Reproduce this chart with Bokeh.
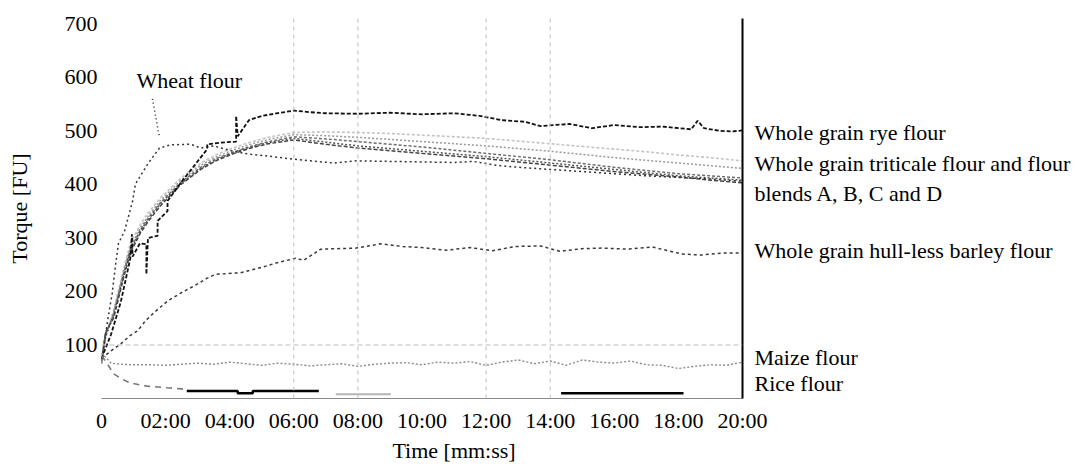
from bokeh.plotting import figure
from bokeh.models import Label, Span, LinearAxis, FixedTicker, Range1d
from bokeh.embed import file_html
from bokeh.resources import INLINE

# ---------------- data ----------------
tick_minutes = [0, 2, 4, 6, 8, 10, 12, 14, 16, 18, 20]
tick_labels = ["0", "02:00", "04:00", "06:00", "08:00", "10:00",
               "12:00", "14:00", "16:00", "18:00", "20:00"]
grid_minutes = [6, 8, 12, 14]
grid_torque = [100]
x_title = "Time [mm:ss]"
x_title_at = 11
y_title = "Torque [FU]"

# end-of-curve labels (torque level where each label sits on the right)
series_names = ["Whole grain rye flour", "Whole grain triticale flour and flour",
                "blends A, B, C and D", "Whole grain hull-less barley flour",
                "Maize flour", "Rice flour"]
series_label_torque = [497, 439, 383, 276, 77, 28]

blend_t = [0, 0.13, 0.38, 0.7, 0.9, 1.22, 1.47, 1.84, 2.48, 3.1, 3.6, 4.1, 4.6, 5.2,
           6, 7, 8, 9, 10, 11, 12, 13, 14, 15, 16, 17, 18, 19, 20]
triticale = [72, 120, 165, 245, 290, 326, 348, 375, 412, 440, 456, 468, 478, 488,
             497, 498, 497, 495, 492, 489, 486, 481, 476, 471, 466, 461, 455, 450, 444]
blend_a = [70, 118, 160, 240, 283, 320, 342, 370, 408, 436, 452, 464, 474, 484,
           493, 491, 488, 484, 480, 476, 472, 467, 462, 456, 450, 445, 440, 435, 430]
blend_b = [68, 122, 155, 236, 278, 316, 338, 366, 404, 432, 449, 460, 470, 480,
           489, 485, 480, 475, 470, 464, 458, 452, 446, 439, 432, 426, 420, 416, 412]
blend_c = [74, 115, 158, 232, 276, 314, 335, 364, 402, 430, 447, 459, 469, 478,
           486, 479, 472, 467, 462, 457, 452, 446, 440, 434, 428, 422, 416, 412, 408]
blend_d = [70, 125, 150, 228, 272, 310, 332, 360, 400, 428, 445, 457, 467, 476,
           483, 475, 468, 463, 458, 453, 448, 442, 436, 430, 424, 419, 414, 408, 403]

wheat_t = [0, 0.19, 0.33, 0.44, 0.53, 0.72, 0.97, 1.06, 1.44, 1.81, 2.16, 2.78, 3.1,
           3.5, 4.1, 4.56, 5.2, 6, 7.25, 7.9, 9, 10, 11, 11.6, 12.3, 13, 14, 15, 16,
           17, 18, 19, 20]
wheat = [65, 145, 195, 250, 290, 313, 369, 401, 438, 468, 474, 475, 468,
         472, 462, 457, 453, 447, 440, 444, 443, 442, 441, 443, 436, 432, 428, 424, 420,
         416, 413, 410, 406]

rye_t = [0, 0.3, 0.6, 0.9, 0.95, 0.97, 1.2, 1.4, 1.4, 1.45, 1.75, 1.75, 2.06, 2.06,
         2.5, 2.88, 3.3, 3.3, 3.7, 4.2, 4.2, 4.25, 4.6, 5, 5.5, 6, 6.5, 7, 8, 9, 10,
         11, 11.8, 12.5, 13.2, 13.7, 14.6, 15.3, 16, 16.8, 17.5, 18.4, 18.6, 18.8,
         19.3, 19.7, 20]
rye = [75, 120, 180, 262, 307, 265, 290, 288, 232, 300, 304, 332, 350, 369,
       405, 434, 466, 475, 478, 480, 528, 490, 520, 528, 533, 538, 535, 533, 532, 534, 531,
       533, 528, 520, 517, 509, 513, 505, 511, 507, 508, 503, 519, 505,
       500, 499, 501]

barley_t = [0, 0.3, 0.6, 0.9, 1.12, 1.37, 1.63, 2.06, 2.47, 2.88, 3.3, 3.56, 4.34, 5,
            5.44, 6.06, 6.3, 6.84, 7.94, 8.7, 9.4, 10, 10.75, 11.5, 12.2, 12.9, 13.7,
            14.3, 15, 15.6, 16.4, 17.2, 18.1, 18.7, 19.4, 20]
barley = [75, 89, 102, 118, 126, 145, 160, 182, 197, 210, 225, 232, 235, 245,
          253, 262, 258, 279, 281, 289, 284, 282, 277, 282, 276, 284, 285,
          275, 280, 281, 279, 283, 270, 268, 272, 272]

maize_t = [0, 0.3, 0.6, 1, 1.5, 2, 2.5, 3, 3.5, 4, 4.5, 5, 5.5, 6, 6.5, 7, 7.5, 8,
           8.5, 9, 9.5, 10, 10.5, 11, 11.5, 12, 12.5, 13, 13.5, 14, 14.5, 15, 15.5,
           16, 16.5, 17, 17.5, 18, 18.5, 19, 19.5, 20]
maize = [85, 66, 64, 63, 63, 62, 64, 66, 64, 68, 65, 62, 66, 64, 61, 63, 65, 60,
         64, 66, 67, 63, 68, 66, 69, 62, 68, 72, 65, 70, 62, 72, 68,
         66, 70, 63, 62, 56, 60, 63, 62, 68]

rice_t = [0, 0.15, 0.38, 0.65, 0.9, 1.43, 2.05, 2.5, 2.66]
rice = [80, 68, 46, 36, 29, 23, 20, 18, 15]
rice_dark_t = [2.66, 4.25, 4.25, 4.72, 4.72, 6.78, float("nan"), 14.34, 18.16]
rice_dark = [14, 14, 10, 10, 14, 14, float("nan"), 10, 10]
rice_faint_t = [7.31, 9.03]
rice_faint = [8, 8]

wheat_pointer_t = [1.59, 1.81]
wheat_pointer_v = [560, 487]

FONT = "Liberation Serif"

p = figure(width=1074, height=466, output_backend="svg", toolbar_location=None,
           x_range=Range1d(0, 20.0), y_range=Range1d(0, 710),
           min_border_left=101, min_border_right=332, min_border_top=18,
           min_border_bottom=68)
p.outline_line_color = None
p.xgrid.visible = False
p.ygrid.visible = False
p.background_fill_color = "white"
p.border_fill_color = "white"

# bottom axis
xa = p.xaxis[0]
xa.ticker = FixedTicker(ticks=tick_minutes)
xa.major_label_overrides = {m: l for m, l in zip(tick_minutes, tick_labels)}
xa.major_label_text_font = FONT
xa.major_label_text_font_size = "22px"
xa.major_label_text_color = "black"
xa.major_label_standoff = 9
xa.major_tick_out = 0
xa.major_tick_in = 0
xa.minor_tick_out = 0
xa.minor_tick_in = 0
xa.axis_line_color = "#8a8a8a"
xa.axis_line_width = 1.2

# second, line-less bottom axis carrying the x title at its position
xt = LinearAxis(ticker=FixedTicker(ticks=[x_title_at]),
                major_label_overrides={x_title_at: x_title},
                axis_line_color=None, major_tick_line_color=None,
                minor_tick_line_color=None, major_tick_out=0, major_tick_in=0,
                minor_tick_out=0, minor_tick_in=0, major_label_standoff=2,
                major_label_text_font=FONT, major_label_text_font_size="22px",
                major_label_text_color="black")
p.add_layout(xt, "below")

# left axis
ya = p.yaxis[0]
ya.ticker = FixedTicker(ticks=[100, 200, 300, 400, 500, 600, 700])
ya.major_label_text_font = FONT
ya.major_label_text_font_size = "22px"
ya.major_label_text_color = "black"
ya.major_label_standoff = 4
ya.major_tick_out = 0
ya.major_tick_in = 0
ya.minor_tick_out = 0
ya.minor_tick_in = 0
ya.axis_line_color = None
ya.axis_label = y_title
ya.axis_label_text_font = FONT
ya.axis_label_text_font_size = "22px"
ya.axis_label_text_font_style = "normal"
ya.axis_label_text_color = "black"
ya.axis_label_standoff = 30

# right axis: black line carrying the series names as labels
ra = LinearAxis(ticker=FixedTicker(ticks=series_label_torque),
                major_label_overrides={v: n for v, n in zip(series_label_torque, series_names)},
                axis_line_color="black", axis_line_width=2,
                major_tick_line_color=None, minor_tick_line_color=None,
                major_tick_out=0, major_tick_in=0, minor_tick_out=0, minor_tick_in=0,
                major_label_standoff=12,
                major_label_text_font=FONT, major_label_text_font_size="22px",
                major_label_text_color="black")
p.add_layout(ra, "right")

# dashed grid lines
for m in grid_minutes:
    p.add_layout(Span(location=m, dimension="height", line_color="#bdbdbd",
                      line_dash="4 4", line_width=1))
for v in grid_torque:
    p.add_layout(Span(location=v, dimension="width", line_color="#bdbdbd",
                      line_dash="5 3", line_width=1))

# curves
p.line(blend_t, triticale, line_color="#c4c4c4", line_width=1.6, line_dash="3 2")
p.line(blend_t, blend_a, line_color="#9a9a9a", line_width=1.5, line_dash="2 2")
p.line(blend_t, blend_b, line_color="#6e6e6e", line_width=1.5, line_dash="3 2")
p.line(blend_t, blend_c, line_color="#555555", line_width=1.5, line_dash="2 2")
p.line(blend_t, blend_d, line_color="#444444", line_width=1.5, line_dash="4 2")
p.line(wheat_t, wheat, line_color="#333333", line_width=1.5, line_dash="2 3")
p.line(rye_t, rye, line_color="#111111", line_width=1.8, line_dash="4 2")
p.line(barley_t, barley, line_color="#3a3a3a", line_width=1.5, line_dash="3 3")
p.line(maize_t, maize, line_color="#8a8a8a", line_width=1.4, line_dash="2 2")
p.line(rice_t, rice, line_color="#777777", line_width=1.6, line_dash="6 5")
p.line(rice_dark_t, rice_dark, line_color="black", line_width=2.5)
p.line(rice_faint_t, rice_faint, line_color="#b5b5b5", line_width=2)
p.line(wheat_pointer_t, wheat_pointer_v, line_color="#222222", line_width=1.5,
       line_dash="1 3")

p.add_layout(Label(x=1.09, y=594, text="Wheat flour", text_font=FONT,
                   text_font_size="22px", text_color="black",
                   text_align="left", text_baseline="middle"))

open("out.html", "w").write(file_html(p, INLINE))
